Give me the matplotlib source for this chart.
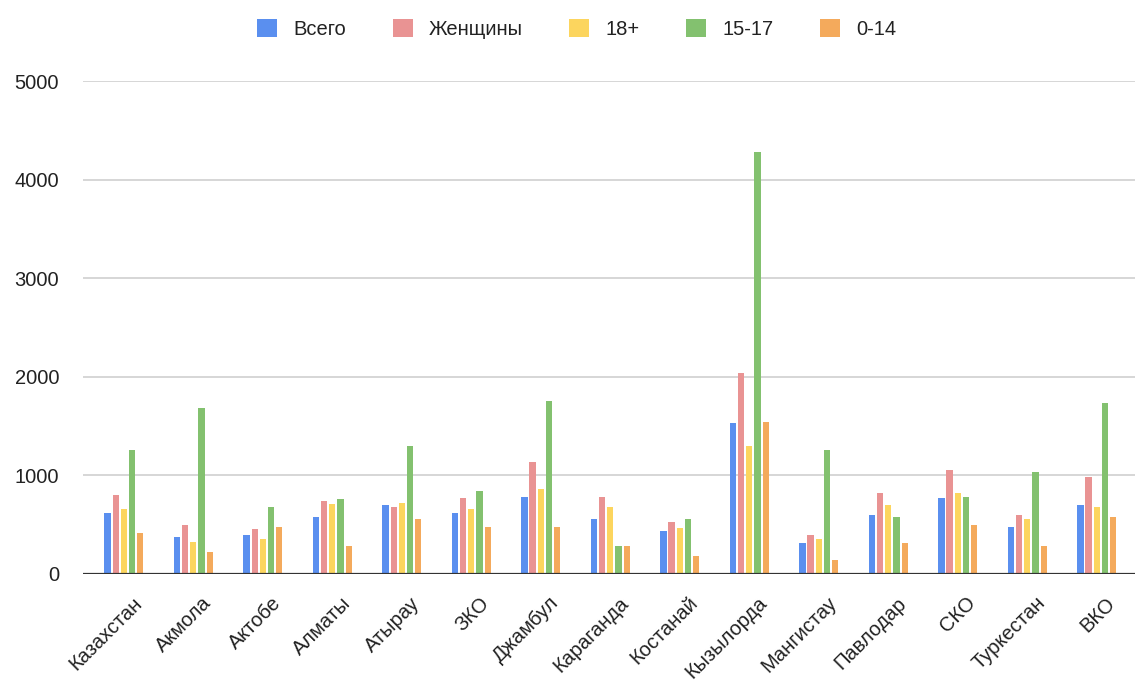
import matplotlib
matplotlib.use("Agg")
import matplotlib.pyplot as plt
import numpy as np

categories = ["Казахстан", "Акмола", "Актобе", "Алматы", "Атырау", "ЗКО", "Джамбул",
              "Караганда", "Костанай", "Кызылорда", "Мангистау", "Павлодар", "СКО",
              "Туркестан", "ВКО"]
series_names = ["Всего", "Женщины", "18+", "15-17", "0-14"]
vsego   = [619, 375, 396, 578, 700, 619, 781, 558, 436, 1531, 314, 598, 771, 477, 700]
zhensh  = [801, 497, 456, 740, 680, 771, 1136, 781, 527, 2039, 396, 822, 1055, 598, 984]
adult   = [659, 325, 355, 710, 720, 659, 862, 680, 467, 1298, 355, 700, 822, 558, 680]
teen    = [1258, 1684, 680, 761, 1298, 842, 1755, 284, 558, 4280, 1258, 578, 781, 1034, 1734]
child   = [416, 223, 477, 284, 558, 477, 477, 284, 183, 1542, 142, 314, 497, 284, 578]
yticks = [0, 1000, 2000, 3000, 4000, 5000]

colors = ["#5a8fef", "#e99393", "#fcd55e", "#83c16f", "#f4aa5c"]

plt.rcParams['font.family'] = ['Liberation Sans', 'DejaVu Sans']
fig = plt.figure(figsize=(11.35, 6.94), dpi=100)
ax = fig.add_axes([0.073, 0.173, 0.927, 0.710])

x = np.arange(len(categories))
step = 0.118
width = 0.09
data = [vsego, zhensh, adult, teen, child]
handles = []
for i, (name, vals, c) in enumerate(zip(series_names, data, colors)):
    b = ax.bar(x + (i - 2) * step, vals, width=width, color=c, label=name, zorder=3)
    handles.append(b)

fs = 14.5
ax.set_ylim(0, 5000)
ax.set_xlim(-0.59, 14.55)
ax.set_yticks(yticks)
ax.set_yticklabels([str(v) for v in yticks], fontsize=fs, color="#222222")
ax.yaxis.grid(True, color="#cfcfcf", linewidth=1.2, zorder=0)
ax.axhline(0, color="#333333", linewidth=1.6, zorder=4)
ax.tick_params(axis="y", length=0, pad=17)
ax.tick_params(axis="x", length=0, pad=14)
ax.set_xticks(x + 0.12)
ax.set_xticklabels(categories, rotation=45, ha="right", rotation_mode="anchor",
                   fontsize=fs, color="#222222")
for s in ax.spines.values():
    s.set_visible(False)

leg = fig.legend(handles=handles, labels=series_names, loc="center",
                 bbox_to_anchor=(0.508, 0.958), ncol=5, frameon=False,
                 fontsize=fs, handlelength=1.0, handleheight=1.0,
                 columnspacing=2.3, handletextpad=0.8)
for t in leg.get_texts():
    t.set_color("#222222")

fig.savefig("out.png", dpi=100)
